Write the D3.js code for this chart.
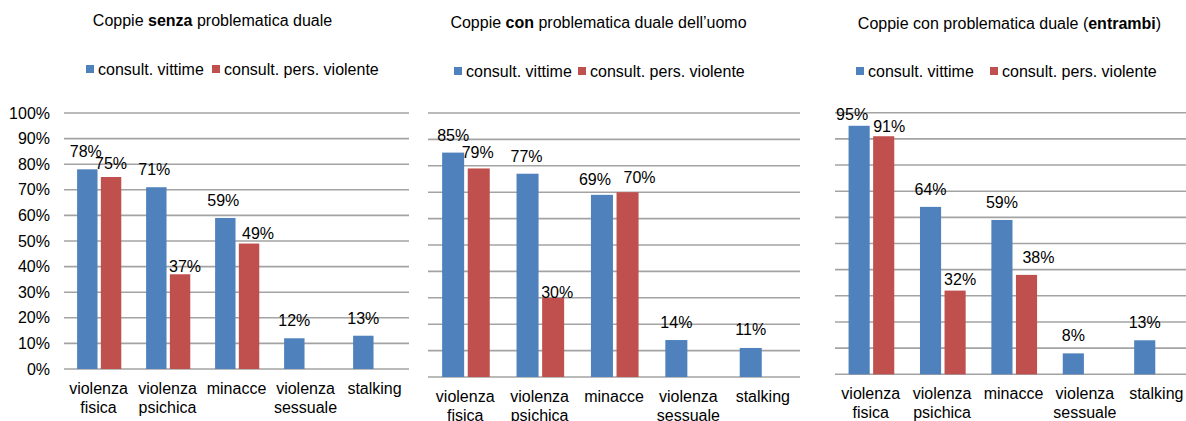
<!DOCTYPE html>
<html>
<head>
<meta charset="utf-8">
<script src="https://cdn.jsdelivr.net/npm/d3@7"></script>
<style>
  html, body { margin: 0; padding: 0; background: #fff; }
  svg { display: block; }
  text { font-family: "Liberation Sans", Arial, sans-serif; fill: #000; }
</style>
</head>
<body>
<svg id="chart" width="1186" height="421"></svg>
<script>
// categorie e serie
const categories = [["violenza", "fisica"], ["violenza", "psichica"], ["minacce"], ["violenza", "sessuale"], ["stalking"]];
const seriesNames = ["consult. vittime", "consult. pers. violente"];
const seriesColors = ["#4f81bd", "#c0504d"];

// titoli: [testo normale, testo in grassetto, testo normale]
const titleSenza = ["Coppie ", "senza", " problematica duale"];
const titleUomo = ["Coppie ", "con", " problematica duale dell\u2019uomo"];
const titleEntrambi = ["Coppie con problematica duale (", "entrambi", ")"];

// valori in %
const vittimeSenza = [78, 71, 59, 12, 13];
const violentiSenza = [75, 37, 49, null, null];
const vittimeUomo = [85, 77, 69, 14, 11];
const violentiUomo = [79, 30, 70, null, null];
const vittimeEntrambi = [95, 64, 59, 8, 13];
const violentiEntrambi = [91, 32, 38, null, null];

const yTicks = [0, 10, 20, 30, 40, 50, 60, 70, 80, 90, 100];

// spostamenti manuali delle etichette (px) [dx, dy] per serie
const nudgeSenza = [[[-1.5, -0.5], [-2, 0], [-2, 0], [0, 0], [0, 0]], [[0, 3.5], [5, 9.5], [9, 7.5], [0, 0], [0, 0]]];
const nudgeUomo = [[[0, 0], [-1, 0], [-7, 2.5], [0, 0], [0, -1.5]], [[-1, 1], [4, 12], [12, 2.5], [0, 0], [0, 0]]];
const nudgeEntrambi = [[[-7, 6.5], [0, 0], [0, 0], [0, 0], [0, 0]], [[5.5, 8], [5, 6], [12, 0], [0, 0], [0, 0]]];

const panels = [
    { title: titleSenza, titleX: 212.5, titleY: 26, values: [vittimeSenza, violentiSenza], nudge: nudgeSenza,
      x0: 64, x1: 409, gridEnd: 409, y0: 369, y1: 113, legendY: 69, legendX: [86, 212], axis: true },
    { title: titleUomo, titleX: 598.5, titleY: 28, values: [vittimeUomo, violentiUomo], nudge: nudgeUomo,
      x0: 428, x1: 800, gridEnd: 800, y0: 377, y1: 113, legendY: 71, legendX: [454, 578], axis: false },
    { title: titleEntrambi, titleX: 1009.5, titleY: 29, values: [vittimeEntrambi, violentiEntrambi], nudge: nudgeEntrambi,
      x0: 835, x1: 1192, gridEnd: 1186, y0: 374.3, y1: 112.7, legendY: 71, legendX: [856, 990], axis: false }
];

const svg = d3.select("#chart");

function drawPanel(p) {
    const g = svg.append("g");

    const x = d3.scaleBand()
        .domain(d3.range(categories.length))
        .range([p.x0, p.x1])
        .padding(0);
    const xs = d3.scaleBand()
        .domain(d3.range(seriesNames.length))
        .range([x.bandwidth() * 0.19, x.bandwidth() * 0.83])
        .paddingInner(0.14);
    const y = d3.scaleLinear().domain([0, 100]).range([p.y0, p.y1]);

    // titolo
    const t = g.append("text")
        .attr("x", p.titleX)
        .attr("y", p.titleY)
        .attr("text-anchor", "middle")
        .style("font-size", "16px");
    p.title.forEach((part, i) => {
        t.append("tspan").text(part).style("font-weight", i === 1 ? "bold" : "normal");
    });

    // legenda
    seriesNames.forEach((name, i) => {
        g.append("rect")
            .attr("x", p.legendX[i])
            .attr("y", p.legendY - 4)
            .attr("width", 8)
            .attr("height", 8)
            .attr("fill", seriesColors[i]);
        g.append("text")
            .attr("x", p.legendX[i] + 12)
            .attr("y", p.legendY)
            .attr("dy", "0.35em")
            .style("font-size", "16px")
            .text(name);
    });

    // griglia
    g.append("g")
        .selectAll("line")
        .data(yTicks)
        .join("line")
        .attr("x1", p.x0)
        .attr("x2", p.gridEnd)
        .attr("y1", d => y(d))
        .attr("y2", d => y(d))
        .attr("stroke", "#a3a3a3")
        .attr("stroke-width", 1.6);

    // asse y solo nel primo grafico
    if (p.axis) {
        g.append("g")
            .selectAll("text")
            .data(yTicks)
            .join("text")
            .attr("x", 50)
            .attr("y", d => y(d))
            .attr("dy", "0.35em")
            .attr("text-anchor", "end")
            .style("font-size", "16px")
            .text(d => d + "%");
    }

    // barre
    const bars = [];
    p.values.forEach((vals, s) => {
        vals.forEach((v, c) => {
            if (v != null) bars.push({ s, c, v });
        });
    });

    g.append("g")
        .selectAll("rect")
        .data(bars)
        .join("rect")
        .attr("x", d => x(d.c) + xs(d.s))
        .attr("y", d => y(d.v))
        .attr("width", xs.bandwidth())
        .attr("height", d => y(0) - y(d.v))
        .attr("fill", d => seriesColors[d.s]);

    // etichette dei valori
    g.append("g")
        .selectAll("text")
        .data(bars)
        .join("text")
        .attr("x", d => x(d.c) + xs(d.s) + xs.bandwidth() / 2 + p.nudge[d.s][d.c][0])
        .attr("y", d => y(d.v) - 17.5 + p.nudge[d.s][d.c][1])
        .attr("dy", "0.35em")
        .attr("text-anchor", "middle")
        .style("font-size", "16px")
        .text(d => d.v + "%");

    // etichette delle categorie
    const cat = g.append("g")
        .selectAll("text")
        .data(categories)
        .join("text")
        .attr("text-anchor", "middle")
        .style("font-size", "16px");
    cat.each(function (lines, c) {
        lines.forEach((line, k) => {
            d3.select(this).append("tspan")
                .attr("x", x(c) + x.bandwidth() / 2)
                .attr("y", p.y0 + 19 + k * 19)
                .attr("dy", "0.35em")
                .text(line);
        });
    });
}

panels.forEach(drawPanel);
</script>
</body>
</html>
